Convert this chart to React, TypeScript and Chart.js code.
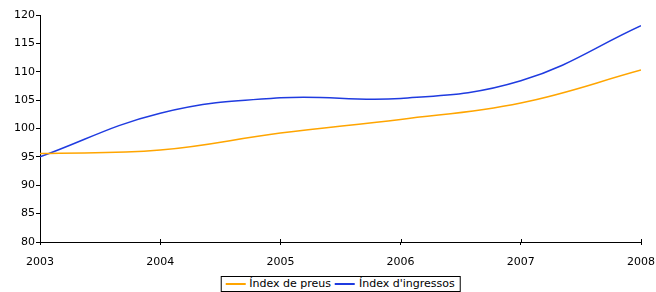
import React, { useEffect, useRef } from "react";
import { Chart, registerables } from "chart.js";

Chart.register(...registerables);

const years = [2003, 2004, 2005, 2006, 2007, 2008];
const preus = [95.6, 96.2, 99.2, 101.6, 104.5, 110.3];
const ingressos = [95.0, 102.7, 105.4, 105.3, 108.4, 118.1];
const seriesNames = ["Índex de preus", "Índex d'ingressos"];
const seriesColors = ["#ffa500", "#1f3be0"];
const yMin = 80;
const yMax = 120;
const yStep = 5;

const FONT = "'DejaVu Sans', sans-serif";

const upTicks = {
  id: "upTicks",
  afterDraw(chart: any) {
    const ctx = chart.ctx;
    const x = chart.scales.x;
    const bottom = chart.chartArea.bottom;
    ctx.save();
    ctx.strokeStyle = "#000";
    ctx.lineWidth = 1;
    years.forEach((yr) => {
      const px = Math.round(x.getPixelForValue(yr)) + 0.5;
      ctx.beginPath();
      ctx.moveTo(px, bottom - 3);
      ctx.lineTo(px, bottom);
      ctx.stroke();
    });
    ctx.restore();
  },
};

export default function App() {
  const ref = useRef<HTMLCanvasElement | null>(null);

  useEffect(() => {
    document.body.style.margin = "0";
    const canvas = ref.current;
    if (!canvas) return;
    const chart = new Chart(canvas, {
      type: "line",
      data: {
        datasets: [
          {
            label: seriesNames[0],
            data: years.map((y, i) => ({ x: y, y: preus[i] })),
            borderColor: seriesColors[0],
            backgroundColor: seriesColors[0],
            borderWidth: 1.5,
            pointRadius: 0,
            tension: 0.4,
          },
          {
            label: seriesNames[1],
            data: years.map((y, i) => ({ x: y, y: ingressos[i] })),
            borderColor: seriesColors[1],
            backgroundColor: seriesColors[1],
            borderWidth: 1.5,
            pointRadius: 0,
            tension: 0.4,
          },
        ],
      },
      options: {
        animation: false,
        responsive: false,
        maintainAspectRatio: false,
        layout: { padding: { top: 15, right: 15, left: 0, bottom: 0 } },
        plugins: {
          legend: { display: false },
          tooltip: { enabled: false },
          title: { display: false },
        },
        scales: {
          x: {
            type: "linear",
            min: years[0],
            max: years[years.length - 1],
            afterFit: (s: any) => {
              s.height = 50;
              s.paddingLeft = 0;
              s.paddingRight = 0;
            },
            afterBuildTicks: (s: any) => {
              s.ticks = years.map((v) => ({ value: v }));
            },
            grid: {
              display: true,
              drawOnChartArea: false,
              drawTicks: true,
              tickLength: 3,
              color: "#000",
            },
            border: { display: true, color: "#000", width: 1 },
            ticks: {
              color: "#000",
              font: { family: FONT, size: 11 },
              padding: 11,
              maxRotation: 0,
              callback: (v: any) => String(v),
            },
          },
          y: {
            type: "linear",
            min: yMin,
            max: yMax,
            afterFit: (s: any) => {
              s.width = 40;
              s.paddingTop = 0;
              s.paddingBottom = 0;
            },
            grid: {
              display: true,
              drawOnChartArea: false,
              drawTicks: true,
              tickLength: 4,
              color: "#000",
            },
            border: { display: true, color: "#000", width: 1 },
            ticks: {
              stepSize: yStep,
              color: "#000",
              font: { family: FONT, size: 11 },
              padding: 1,
            },
          },
        },
      },
      plugins: [upTicks],
    });
    return () => chart.destroy();
  }, []);

  return (
    <div style={{ position: "relative", width: 656, height: 292, overflow: "hidden" }}>
      <canvas ref={ref} width={656} height={292} style={{ display: "block" }} />
      <div
        style={{
          position: "absolute",
          top: 276,
          left: 340.5,
          transform: "translateX(-50%)",
          border: "1px solid #000",
          display: "flex",
          alignItems: "center",
          whiteSpace: "nowrap",
          fontFamily: FONT,
          fontSize: 11,
          lineHeight: "14px",
          padding: "0 5px 0 4px",
          background: "#fff",
        }}
      >
        {seriesNames.map((n, i) => (
          <span key={n} style={{ display: "flex", alignItems: "center", marginLeft: i ? 4 : 0 }}>
            <span
              style={{
                display: "inline-block",
                width: 20,
                height: 1.5,
                background: seriesColors[i],
                marginRight: 4,
              }}
            />
            <span>{n}</span>
          </span>
        ))}
      </div>
    </div>
  );
}
